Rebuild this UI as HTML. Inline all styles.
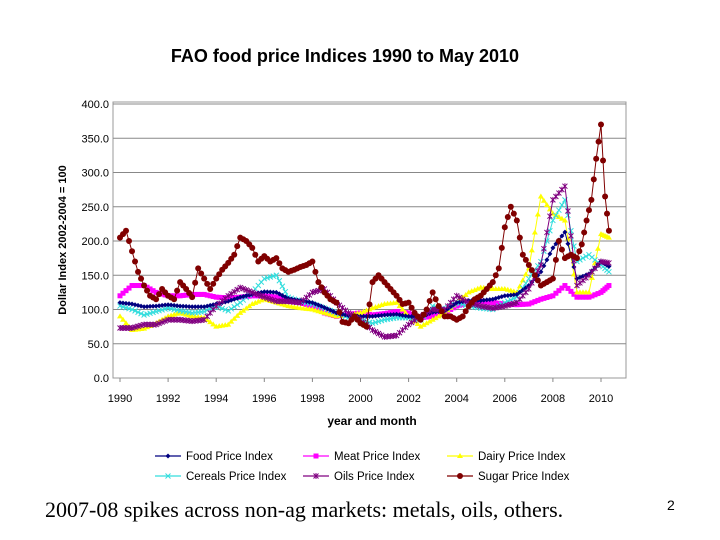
<!DOCTYPE html>
<html><head><meta charset="utf-8"><style>
body{margin:0;background:#fff;width:720px;height:540px;overflow:hidden;position:relative;font-family:"Liberation Sans",sans-serif}
svg{position:absolute;left:0;top:0}
.cap{position:absolute;left:45px;top:497px;font-family:"Liberation Serif",serif;font-size:22px;color:#000;white-space:nowrap}
.pg{position:absolute;left:667px;top:497px;font-size:14px}
</style></head><body>
<svg id="chart" width="720" height="540"></svg>
<div class="cap">2007-08 spikes across non-ag markets: metals, oils, others.</div>
<div class="pg">2</div>
<script>
const yTicks=[0,50,100,150,200,250,300,350,400];
const xTicks=[1990,1992,1994,1996,1998,2000,2002,2004,2006,2008,2010];
const halfYears=[1990,1990.5,1991,1991.5,1992,1992.5,1993,1993.5,1994,1994.5,1995,1995.5,1996,1996.5,1997,1997.5,1998,1998.5,1999,1999.5,2000,2000.5,2001,2001.5,2002,2002.5,2003,2003.5,2004,2004.5,2005,2005.5,2006,2006.5,2007,2007.5,2008,2008.5,2009,2009.5,2010,2010.33];
const food=[110,108,104,105,107,105,104,104,108,112,118,122,126,125,116,113,110,103,95,91,90,90,92,93,90,89,96,98,110,113,113,115,120,122,135,155,190,213,145,152,170,163];
const meat=[120,135,135,125,120,120,122,122,118,117,118,120,120,118,112,110,105,95,90,93,95,92,94,97,95,88,90,95,105,110,112,110,108,107,108,115,120,135,118,118,125,135];
const dairy=[90,70,72,80,90,95,90,88,75,78,95,108,115,110,105,102,100,95,90,92,95,102,108,110,90,75,85,95,110,125,132,130,130,125,160,265,240,230,125,125,210,205];
const cereals=[105,100,92,97,102,98,95,97,105,98,110,125,145,150,118,112,108,102,95,88,85,80,85,88,88,85,105,100,110,105,102,100,110,118,145,170,230,260,170,180,165,155];
const oils=[73,73,78,78,85,85,83,85,105,120,132,125,118,112,112,110,125,130,110,95,85,70,60,62,78,90,100,100,120,110,105,102,105,110,130,165,260,280,135,150,170,168];
const sugarYears=[1990,1990.25,1990.5,1990.75,1991,1991.25,1991.5,1991.75,1992,1992.25,1992.5,1992.75,1993,1993.25,1993.5,1993.75,1994,1994.25,1994.5,1994.75,1995,1995.25,1995.5,1995.75,1996,1996.25,1996.5,1996.75,1997,1997.25,1997.5,1997.75,1998,1998.25,1998.5,1998.75,1999,1999.25,1999.5,1999.75,2000,2000.25,2000.5,2000.75,2001,2001.25,2001.5,2001.75,2002,2002.25,2002.5,2002.75,2003,2003.25,2003.5,2003.75,2004,2004.25,2004.5,2004.75,2005,2005.25,2005.5,2005.75,2006,2006.25,2006.5,2006.75,2007,2007.25,2007.5,2007.75,2008,2008.25,2008.5,2008.75,2009,2009.2,2009.4,2009.6,2009.8,2010,2010.17,2010.33];
const sugar=[205,215,185,155,135,120,115,130,120,115,140,130,118,160,145,130,145,158,168,180,205,200,190,170,178,170,175,160,155,158,162,165,170,140,125,115,110,82,80,90,80,75,140,150,140,130,120,108,110,95,85,100,125,105,90,90,85,90,105,115,120,130,140,160,220,250,230,180,165,150,135,140,145,200,175,180,175,195,230,260,320,370,265,215];

const NS="http://www.w3.org/2000/svg";
const svg=document.getElementById('chart');
const X0=113,X1=626,Y0=378,Y1=104;
const xs=y=>120+(y-1990)*(601-120)/20;
const ys=v=>Y0-(v/400)*(Y0-Y1);
function mk(t,a,p){const e=document.createElementNS(NS,t);for(const k in a)e.setAttribute(k,a[k]);(p||svg).appendChild(e);return e;}

let t=mk('text',{x:345,y:62,'text-anchor':'middle','font-size':18,'font-weight':'bold','font-family':'Liberation Sans'});t.textContent='FAO food price Indices 1990 to May 2010';


let fr=mk('rect',{x:X0,y:102,width:X1-X0,height:Y0-102,fill:'#fff',stroke:'#999','stroke-width':1});


yTicks.forEach(v=>{
 if(v>0){let g=mk('line',{x1:X0,x2:X1,y1:ys(v),y2:ys(v),stroke:'#888','stroke-width':1});
 
 }
 let l=mk('text',{x:X0-4,y:ys(v)+4,'text-anchor':'end','font-size':11});l.textContent=v.toFixed(1);
 
 
});
xTicks.forEach(v=>{
 mk('line',{x1:xs(v),x2:xs(v),y1:Y0,y2:Y0+4,stroke:'#888'});
 let l=mk('text',{x:xs(v),y:Y0+24,'text-anchor':'middle','font-size':11});l.textContent=v;
 
 
});
t=mk('text',{x:372,y:425,'text-anchor':'middle','font-size':12,'font-weight':'bold'});t.textContent='year and month';


t=mk('text',{x:0,y:0,'text-anchor':'middle','font-size':11,'font-weight':'bold',transform:'translate(66,240) rotate(-90)'});t.textContent='Dollar Index 2002-2004 = 100';



function marker(g,type,x,y,c){
 if(type==='dia')mk('path',{d:`M${x} ${y-2.5}L${x+2.5} ${y}L${x} ${y+2.5}L${x-2.5} ${y}Z`,fill:c},g);
 else if(type==='sq')mk('rect',{x:x-2.5,y:y-2.5,width:5,height:5,fill:c},g);
 else if(type==='tri')mk('path',{d:`M${x} ${y-3}L${x+3} ${y+2}L${x-3} ${y+2}Z`,fill:c},g);
 else if(type==='x')mk('path',{d:`M${x-2.5} ${y-2.5}L${x+2.5} ${y+2.5}M${x+2.5} ${y-2.5}L${x-2.5} ${y+2.5}`,stroke:c,'stroke-width':1},g);
 else if(type==='star')mk('path',{d:`M${x-2.5} ${y-2.5}L${x+2.5} ${y+2.5}M${x+2.5} ${y-2.5}L${x-2.5} ${y+2.5}M${x} ${y-3}L${x} ${y+3}`,stroke:c,'stroke-width':1},g);
 else mk('circle',{cx:x,cy:y,r:3,fill:c},g);
}
const series=[
 {name:'meat',label:'Meat Price Index',c:'#ff00ff',m:'sq',xv:halfYears,v:meat},
 {name:'dairy',label:'Dairy Price Index',c:'#ffff00',m:'tri',xv:halfYears,v:dairy},
 {name:'cereals',label:'Cereals Price Index',c:'#33dddd',m:'x',xv:halfYears,v:cereals},
 {name:'food',label:'Food Price Index',c:'#000080',m:'dia',xv:halfYears,v:food},
 {name:'oils',label:'Oils Price Index',c:'#800080',m:'star',xv:halfYears,v:oils},
 {name:'sugar',label:'Sugar Price Index',c:'#800000',m:'dot',xv:sugarYears,v:sugar}
];
series.forEach(s=>{
 const g=mk('g',{});
 
 
 const pts=s.v.map((v,i)=>[xs(s.xv[i]),ys(v)]);
 mk('polyline',{points:pts.map(p=>p.join(',')).join(' '),fill:'none',stroke:s.c,'stroke-width':1},g);
 for(let i=0;i<pts.length-1;i++){
  const n=s.name==='sugar'?2:4;
  for(let k=0;k<n;k++){const f=k/n;marker(g,s.m,pts[i][0]+(pts[i+1][0]-pts[i][0])*f,pts[i][1]+(pts[i+1][1]-pts[i][1])*f,s.c);}
 }
 marker(g,s.m,pts[pts.length-1][0],pts[pts.length-1][1],s.c);
});
const legendOrder=['food','meat','dairy','cereals','oils','sugar'];
const lx=[155,303,447],ly=[456,476];
legendOrder.forEach((n,i)=>{
 const s=series.find(q=>q.name===n);
 const x=lx[i%3],y=ly[Math.floor(i/3)];
 const g=mk('g',{});
 
 
 mk('line',{x1:x,x2:x+26,y1:y,y2:y,stroke:s.c,'stroke-width':1.3},g);
 marker(g,s.m,x+13,y,s.c);
 const tt=mk('text',{x:x+31,y:y+4,'font-size':11.5},g);tt.textContent=s.label;
});
</script>
</body></html>
